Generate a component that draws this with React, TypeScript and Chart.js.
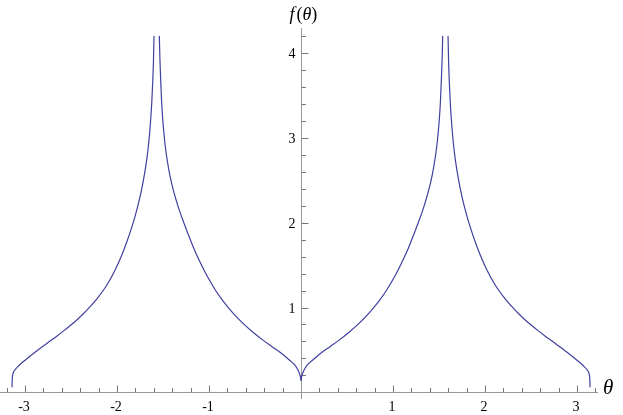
import React, { useEffect, useRef } from "react";
import { Chart, registerables } from "chart.js";

Chart.register(...registerables);

// Branch on (-pi, -pi/2)
const thetaA = [-3.141, -3.139, -3.134, -3.122, -3.105, -3.08, -3.054, -3.0, -2.946, -2.87, -2.8, -2.728, -2.655, -2.58, -2.511, -2.44, -2.366, -2.29, -2.221, -2.112, -2.022, -1.949, -1.902, -1.859, -1.804, -1.75, -1.712, -1.677, -1.655, -1.634, -1.622, -1.612, -1.604, -1.598];
const fA = [0.06, 0.15, 0.205, 0.245, 0.27, 0.3, 0.328, 0.378, 0.425, 0.489, 0.546, 0.604, 0.662, 0.724, 0.784, 0.85, 0.926, 1.013, 1.1, 1.263, 1.44, 1.617, 1.75, 1.884, 2.076, 2.306, 2.509, 2.747, 2.948, 3.22, 3.427, 3.661, 3.909, 4.207];
// Branch on (-pi/2, 0)
const thetaB = [-1.54, -1.534, -1.526, -1.516, -1.504, -1.483, -1.461, -1.426, -1.388, -1.334, -1.279, -1.228, -1.171, -1.098, -1.025, -0.935, -0.845, -0.739, -0.627, -0.522, -0.41, -0.315, -0.228, -0.174, -0.12, -0.076, -0.047, -0.022, -0.008, 0.0];
const fB = [4.207, 3.943, 3.707, 3.447, 3.235, 2.975, 2.786, 2.562, 2.385, 2.185, 2.015, 1.87, 1.712, 1.537, 1.38, 1.213, 1.073, 0.935, 0.81, 0.708, 0.612, 0.538, 0.472, 0.425, 0.374, 0.331, 0.289, 0.236, 0.189, 0.136];
// Branch on (0, pi/2)
const thetaC = [0.0, 0.008, 0.022, 0.047, 0.076, 0.12, 0.174, 0.228, 0.315, 0.41, 0.522, 0.627, 0.739, 0.845, 0.935, 1.025, 1.098, 1.171, 1.228, 1.279, 1.334, 1.388, 1.426, 1.461, 1.483, 1.504, 1.516, 1.526, 1.534, 1.54];
const fC = [0.136, 0.189, 0.236, 0.289, 0.331, 0.374, 0.425, 0.472, 0.538, 0.612, 0.708, 0.81, 0.935, 1.073, 1.213, 1.38, 1.537, 1.712, 1.87, 2.015, 2.185, 2.385, 2.562, 2.786, 2.975, 3.235, 3.447, 3.707, 3.943, 4.207];
// Branch on (pi/2, pi)
const thetaD = [1.598, 1.604, 1.612, 1.622, 1.634, 1.655, 1.677, 1.712, 1.75, 1.804, 1.859, 1.902, 1.949, 2.022, 2.112, 2.221, 2.29, 2.366, 2.44, 2.511, 2.58, 2.655, 2.728, 2.8, 2.87, 2.946, 3.0, 3.054, 3.08, 3.105, 3.122, 3.134, 3.139, 3.141];
const fD = [4.207, 3.909, 3.661, 3.427, 3.22, 2.948, 2.747, 2.509, 2.306, 2.076, 1.884, 1.75, 1.617, 1.44, 1.263, 1.1, 1.013, 0.926, 0.85, 0.784, 0.724, 0.662, 0.604, 0.546, 0.489, 0.425, 0.378, 0.328, 0.3, 0.27, 0.245, 0.205, 0.15, 0.06];

const xTickLabels = ["-3", "-2", "-1", "1", "2", "3"];
const xTickValues = [-3, -2, -1, 1, 2, 3];
const yTickLabels = ["1", "2", "3", "4"];
const yTickValues = [1, 2, 3, 4];

const toPts = (xs: number[], ys: number[]) => xs.map((x, i) => ({ x, y: ys[i] }));

const axesPlugin = {
  id: "mmaAxes",
  beforeDatasetsDraw(chart: any) {
    const { ctx } = chart;
    const xs = chart.scales.x;
    const ys = chart.scales.y;
    const x0 = Math.round(xs.getPixelForValue(0)) + 0.5;
    const y0 = Math.round(ys.getPixelForValue(0)) + 0.5;
    ctx.save();
    ctx.lineWidth = 1;
    ctx.strokeStyle = "#999999";
    ctx.beginPath();
    ctx.moveTo(xs.left, y0);
    ctx.lineTo(xs.right, y0);
    ctx.moveTo(x0, ys.top);
    ctx.lineTo(x0, ys.bottom);
    ctx.stroke();
    ctx.strokeStyle = "#777777";
    ctx.beginPath();
    for (let k = -16; k <= 16; k++) {
      if (k === 0) continue;
      const px = Math.round(xs.getPixelForValue(k / 5)) + 0.5;
      const len = k % 5 === 0 ? 7 : 4.5;
      ctx.moveTo(px, y0);
      ctx.lineTo(px, y0 - len);
    }
    for (let k = 1; k <= 21; k++) {
      const py = Math.round(ys.getPixelForValue(k / 5)) + 0.5;
      const len = k % 5 === 0 ? 7 : 4.5;
      ctx.moveTo(x0, py);
      ctx.lineTo(x0 + len, py);
    }
    ctx.stroke();

    ctx.fillStyle = "#000000";
    ctx.font = "14px 'Liberation Serif', serif";
    ctx.textAlign = "center";
    ctx.textBaseline = "alphabetic";
    xTickValues.forEach((v, i) => {
      ctx.fillText(xTickLabels[i], xs.getPixelForValue(v) - 1, y0 + 18);
    });
    ctx.textAlign = "right";
    yTickValues.forEach((v, i) => {
      ctx.fillText(yTickLabels[i], x0 - 6, ys.getPixelForValue(v) + 5);
    });

    ctx.font = "italic 21px 'Liberation Serif', serif";
    ctx.textAlign = "left";
    ctx.fillText("θ", xs.right + 5, y0 + 1);

    const fx = x0 - 12;
    const fy = 20;
    ctx.font = "italic 18px 'Liberation Serif', serif";
    ctx.fillText("f", fx, fy);
    let w = ctx.measureText("f").width + 2;
    ctx.font = "18px 'Liberation Serif', serif";
    ctx.fillText("(", fx + w, fy);
    w += ctx.measureText("(").width;
    ctx.font = "italic 18px 'Liberation Serif', serif";
    ctx.fillText("θ", fx + w, fy);
    w += ctx.measureText("θ").width;
    ctx.font = "18px 'Liberation Serif', serif";
    ctx.fillText(")", fx + w, fy);
    ctx.restore();
  },
};

export default function App() {
  const ref = useRef<HTMLCanvasElement | null>(null);
  useEffect(() => {
    if (!ref.current) return;
    const ds = (data: { x: number; y: number }[]) => ({
      data,
      showLine: true,
      borderColor: "rgb(64,64,160)",
      borderWidth: 1.2,
      pointRadius: 0,
      cubicInterpolationMode: "monotone" as const,
      fill: false,
    });
    const chart = new Chart(ref.current, {
      type: "scatter",
      data: {
        datasets: [
          ds(toPts(thetaA, fA)),
          ds(toPts(thetaB, fB)),
          ds(toPts(thetaC, fC)),
          ds(toPts(thetaD, fD)),
        ],
      },
      options: {
        responsive: false,
        animation: false,
        devicePixelRatio: 1,
        layout: { padding: { left: 0, right: 25, top: 28, bottom: 16 } },
        plugins: { legend: { display: false }, tooltip: { enabled: false } },
        scales: {
          x: { type: "linear", min: -3.272, max: 3.228, display: false },
          y: { type: "linear", min: -0.08, max: 4.3, display: false },
        },
      },
      plugins: [axesPlugin],
    });
    return () => chart.destroy();
  }, []);
  return (
    <div style={{ position: "absolute", left: 0, top: 0, width: 623, height: 415, background: "#fff" }}>
      <canvas ref={ref} width={623} height={415} />
    </div>
  );
}
